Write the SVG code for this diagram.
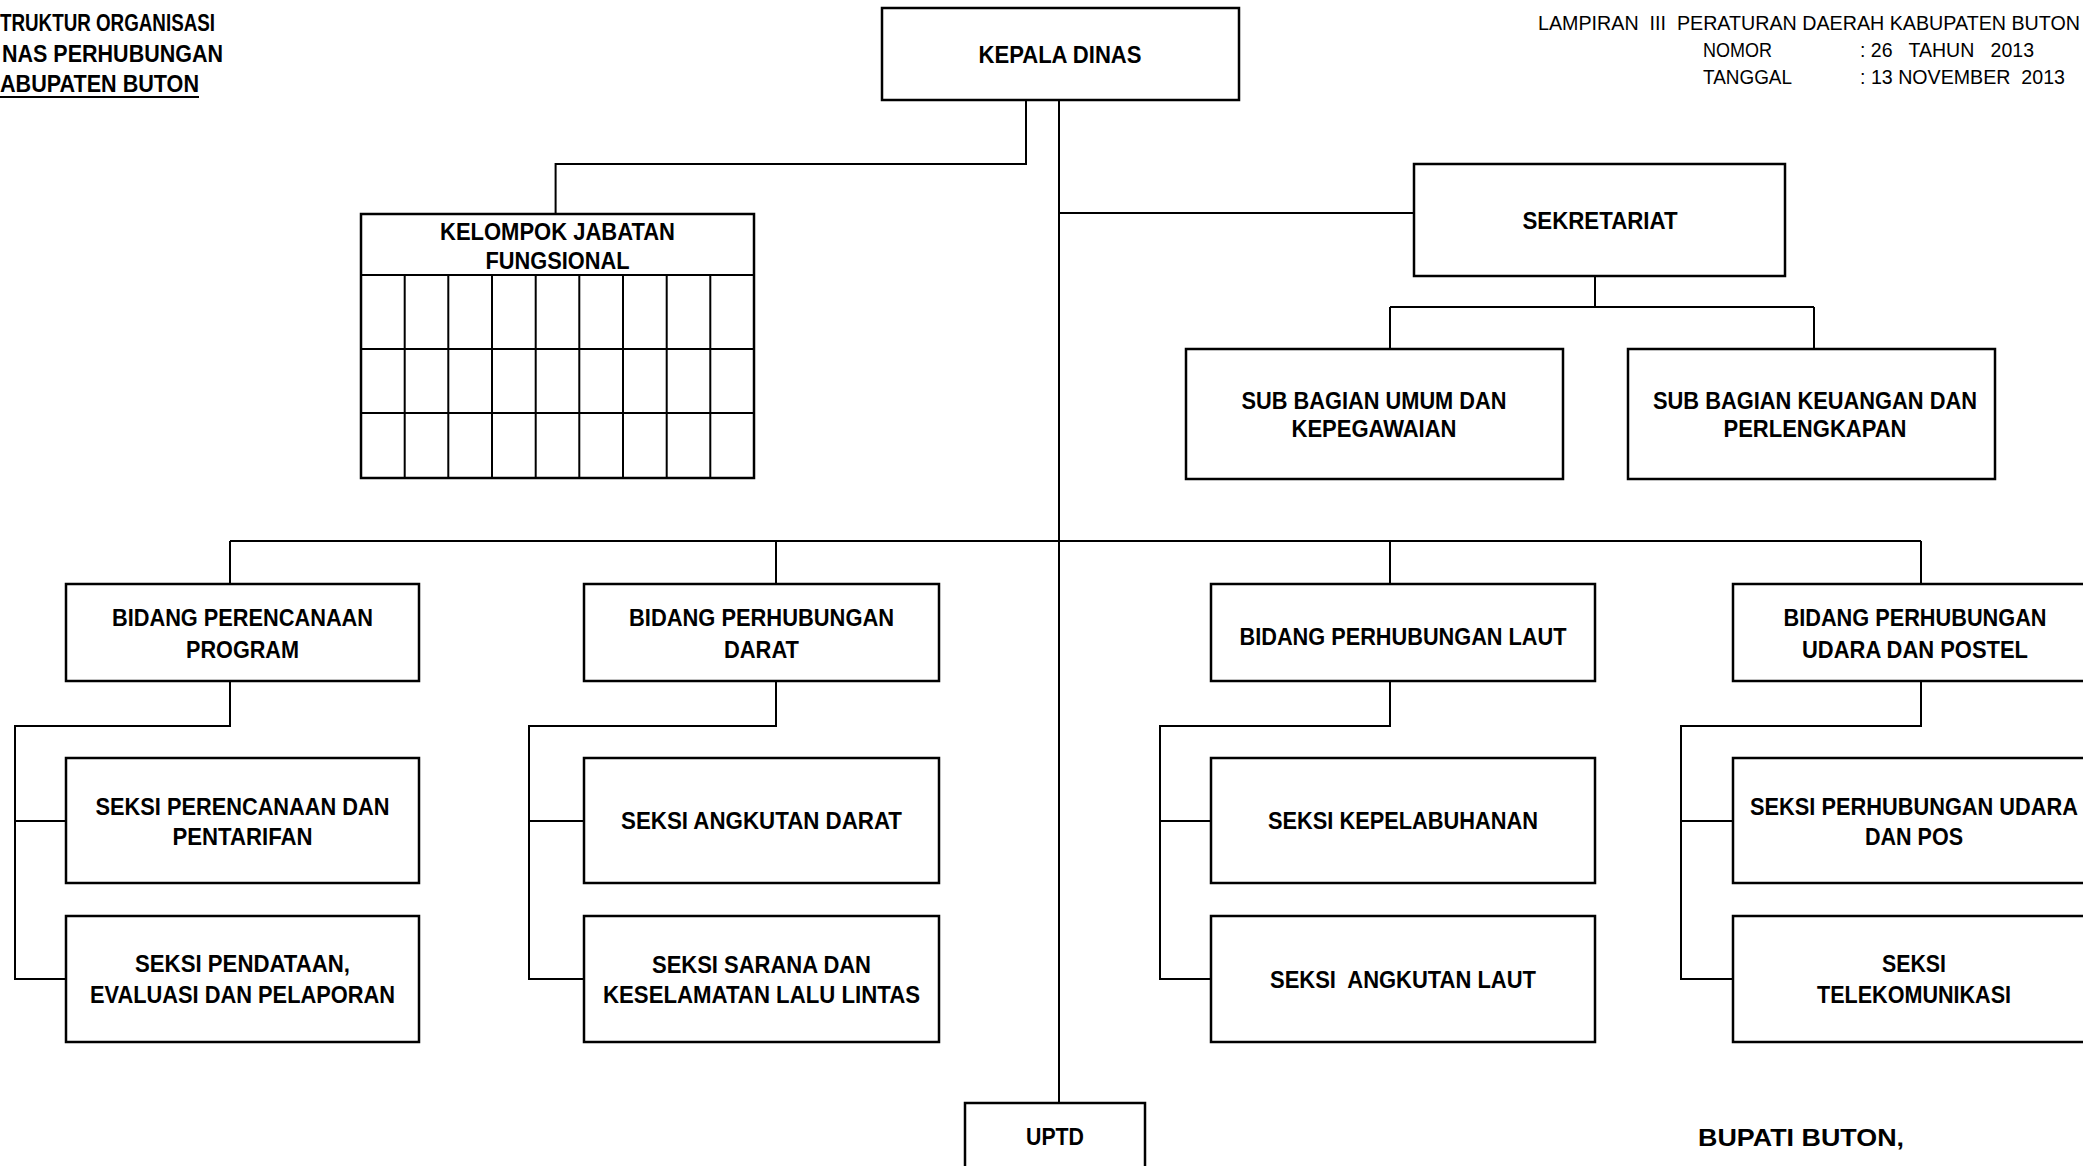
<svg xmlns="http://www.w3.org/2000/svg" width="2083" height="1166" viewBox="0 0 2083 1166">
<style>
.bx{fill:#fff;stroke:#000;stroke-width:2.5}
.cn{fill:none;stroke:#000;stroke-width:2}
.gl{fill:none;stroke:#000;stroke-width:2}
.t{font-family:"Liberation Sans",Arial,sans-serif;font-weight:bold;font-size:24px;fill:#000;text-anchor:middle;white-space:pre}
.h{font-family:"Liberation Sans",Arial,sans-serif;font-weight:bold;font-size:24px;fill:#000;white-space:pre}
.r{font-family:"Liberation Sans",Arial,sans-serif;font-size:19.5px;fill:#000;white-space:pre}
</style>
<rect width="2083" height="1166" fill="#fff"/>
<g id="header">
<text class="h" x="0" y="31" textLength="215" lengthAdjust="spacingAndGlyphs">TRUKTUR ORGANISASI</text>
<text class="h" x="2" y="62" textLength="221" lengthAdjust="spacingAndGlyphs">NAS PERHUBUNGAN</text>
<text class="h" x="0" y="92" textLength="199" lengthAdjust="spacingAndGlyphs">ABUPATEN BUTON</text>
<line x1="0" y1="97" x2="199" y2="97" stroke="#000" stroke-width="2"/>
<text class="r" x="1538" y="30" textLength="542" lengthAdjust="spacingAndGlyphs">LAMPIRAN  III  PERATURAN DAERAH KABUPATEN BUTON</text>
<text class="r" x="1703" y="57" textLength="69" lengthAdjust="spacingAndGlyphs">NOMOR</text>
<text class="r" x="1860" y="57" textLength="174" lengthAdjust="spacingAndGlyphs">: 26   TAHUN   2013</text>
<text class="r" x="1703" y="84" textLength="89" lengthAdjust="spacingAndGlyphs">TANGGAL</text>
<text class="r" x="1860" y="84" textLength="205" lengthAdjust="spacingAndGlyphs">: 13 NOVEMBER  2013</text>
</g>
<g id="connectors">
<path class="cn" d="M1026,100 V164 H555.6 V214"/>
<path class="cn" d="M1059,100 V1103"/>
<path class="cn" d="M1059,213 H1414"/>
<path class="cn" d="M1595,276 V307 M1390,307 H1814 M1390,307 V349 M1814,307 V349"/>
<path class="cn" d="M230,541 H1921 M230,541 V584 M776,541 V584 M1390,541 V584 M1921,541 V584"/>
<path class="cn" d="M230,681 V726 H15 V979 H66 M15,821 H66"/>
<path class="cn" d="M776,681 V726 H529 V979 H584 M529,821 H584"/>
<path class="cn" d="M1390,681 V726 H1160 V979 H1211 M1160,821 H1211"/>
<path class="cn" d="M1921,681 V726 H1681 V979 H1733 M1681,821 H1733"/>
</g>
<g id="kepala-dinas">
<rect class="bx" x="882" y="8" width="357" height="92"/>
<text class="t" x="1060" y="63" textLength="163" lengthAdjust="spacingAndGlyphs">KEPALA DINAS</text>
</g>
<g id="kelompok-jabatan-fungsional">
<rect class="bx" x="361" y="214" width="393" height="264"/>
<path class="gl" d="M361,275 H754 M361,349 H754 M361,413 H754 M404.7,275 V478 M448.3,275 V478 M492,275 V478 M535.7,275 V478 M579.3,275 V478 M623,275 V478 M666.7,275 V478 M710.3,275 V478"/>
<text class="t" x="557.5" y="240" textLength="235" lengthAdjust="spacingAndGlyphs">KELOMPOK JABATAN</text>
<text class="t" x="557.5" y="269" textLength="144" lengthAdjust="spacingAndGlyphs">FUNGSIONAL</text>
</g>
<g id="sekretariat">
<rect class="bx" x="1414" y="164" width="371" height="112"/>
<text class="t" x="1600" y="229" textLength="155" lengthAdjust="spacingAndGlyphs">SEKRETARIAT</text>
</g>
<g id="sub-bagian-umum">
<rect class="bx" x="1186" y="349" width="377" height="130"/>
<text class="t" x="1374" y="408.6" textLength="265" lengthAdjust="spacingAndGlyphs">SUB BAGIAN UMUM DAN</text>
<text class="t" x="1374" y="437" textLength="165" lengthAdjust="spacingAndGlyphs">KEPEGAWAIAN</text>
</g>
<g id="sub-bagian-keuangan">
<rect class="bx" x="1628" y="349" width="367" height="130"/>
<text class="t" x="1815" y="408.6" textLength="324" lengthAdjust="spacingAndGlyphs">SUB BAGIAN KEUANGAN DAN</text>
<text class="t" x="1815" y="437" textLength="183" lengthAdjust="spacingAndGlyphs">PERLENGKAPAN</text>
</g>
<g id="bidang-perencanaan">
<rect class="bx" x="66" y="584" width="353" height="97"/>
<text class="t" x="242.5" y="625.6" textLength="261" lengthAdjust="spacingAndGlyphs">BIDANG PERENCANAAN</text>
<text class="t" x="242.5" y="657.6" textLength="113" lengthAdjust="spacingAndGlyphs">PROGRAM</text>
</g>
<g id="bidang-darat">
<rect class="bx" x="584" y="584" width="355" height="97"/>
<text class="t" x="761.5" y="625.6" textLength="265" lengthAdjust="spacingAndGlyphs">BIDANG PERHUBUNGAN</text>
<text class="t" x="761.5" y="657.6" textLength="75" lengthAdjust="spacingAndGlyphs">DARAT</text>
</g>
<g id="bidang-laut">
<rect class="bx" x="1211" y="584" width="384" height="97"/>
<text class="t" x="1403" y="644.6" textLength="327" lengthAdjust="spacingAndGlyphs">BIDANG PERHUBUNGAN LAUT</text>
</g>
<g id="bidang-udara">
<rect class="bx" x="1733" y="584" width="370" height="97"/>
<text class="t" x="1915" y="625.6" textLength="263" lengthAdjust="spacingAndGlyphs">BIDANG PERHUBUNGAN</text>
<text class="t" x="1915" y="657.6" textLength="226" lengthAdjust="spacingAndGlyphs">UDARA DAN POSTEL</text>
</g>
<g id="seksi-perencanaan">
<rect class="bx" x="66" y="758" width="353" height="125"/>
<text class="t" x="242.5" y="814.6" textLength="294" lengthAdjust="spacingAndGlyphs">SEKSI PERENCANAAN DAN</text>
<text class="t" x="242.5" y="844.6" textLength="140" lengthAdjust="spacingAndGlyphs">PENTARIFAN</text>
</g>
<g id="seksi-pendataan">
<rect class="bx" x="66" y="916" width="353" height="126"/>
<text class="t" x="242.5" y="971.6" textLength="215" lengthAdjust="spacingAndGlyphs">SEKSI PENDATAAN,</text>
<text class="t" x="242.5" y="1003.3" textLength="305" lengthAdjust="spacingAndGlyphs">EVALUASI DAN PELAPORAN</text>
</g>
<g id="seksi-angkutan-darat">
<rect class="bx" x="584" y="758" width="355" height="125"/>
<text class="t" x="761.5" y="829.3" textLength="281" lengthAdjust="spacingAndGlyphs">SEKSI ANGKUTAN DARAT</text>
</g>
<g id="seksi-sarana">
<rect class="bx" x="584" y="916" width="355" height="126"/>
<text class="t" x="761.5" y="972.6" textLength="219" lengthAdjust="spacingAndGlyphs">SEKSI SARANA DAN</text>
<text class="t" x="761.5" y="1002.6" textLength="317" lengthAdjust="spacingAndGlyphs">KESELAMATAN LALU LINTAS</text>
</g>
<g id="seksi-kepelabuhanan">
<rect class="bx" x="1211" y="758" width="384" height="125"/>
<text class="t" x="1403" y="829.3" textLength="270" lengthAdjust="spacingAndGlyphs">SEKSI KEPELABUHANAN</text>
</g>
<g id="seksi-angkutan-laut">
<rect class="bx" x="1211" y="916" width="384" height="126"/>
<text class="t" x="1403" y="987.6" textLength="266" lengthAdjust="spacingAndGlyphs">SEKSI  ANGKUTAN LAUT</text>
</g>
<g id="seksi-udara">
<rect class="bx" x="1733" y="758" width="370" height="125"/>
<text class="t" x="1914" y="814.6" textLength="328" lengthAdjust="spacingAndGlyphs">SEKSI PERHUBUNGAN UDARA</text>
<text class="t" x="1914" y="844.6" textLength="98" lengthAdjust="spacingAndGlyphs">DAN POS</text>
</g>
<g id="seksi-telekomunikasi">
<rect class="bx" x="1733" y="916" width="370" height="126"/>
<text class="t" x="1914" y="971.6" textLength="64" lengthAdjust="spacingAndGlyphs">SEKSI</text>
<text class="t" x="1914" y="1003.3" textLength="194" lengthAdjust="spacingAndGlyphs">TELEKOMUNIKASI</text>
</g>
<g id="uptd">
<rect class="bx" x="965" y="1103" width="180" height="100"/>
<text class="t" x="1055" y="1144.6" textLength="58" lengthAdjust="spacingAndGlyphs">UPTD</text>
</g>
<g id="signature">
<text class="h" x="1698" y="1146" font-size="26" textLength="206" lengthAdjust="spacingAndGlyphs">BUPATI BUTON,</text>
</g>
</svg>
